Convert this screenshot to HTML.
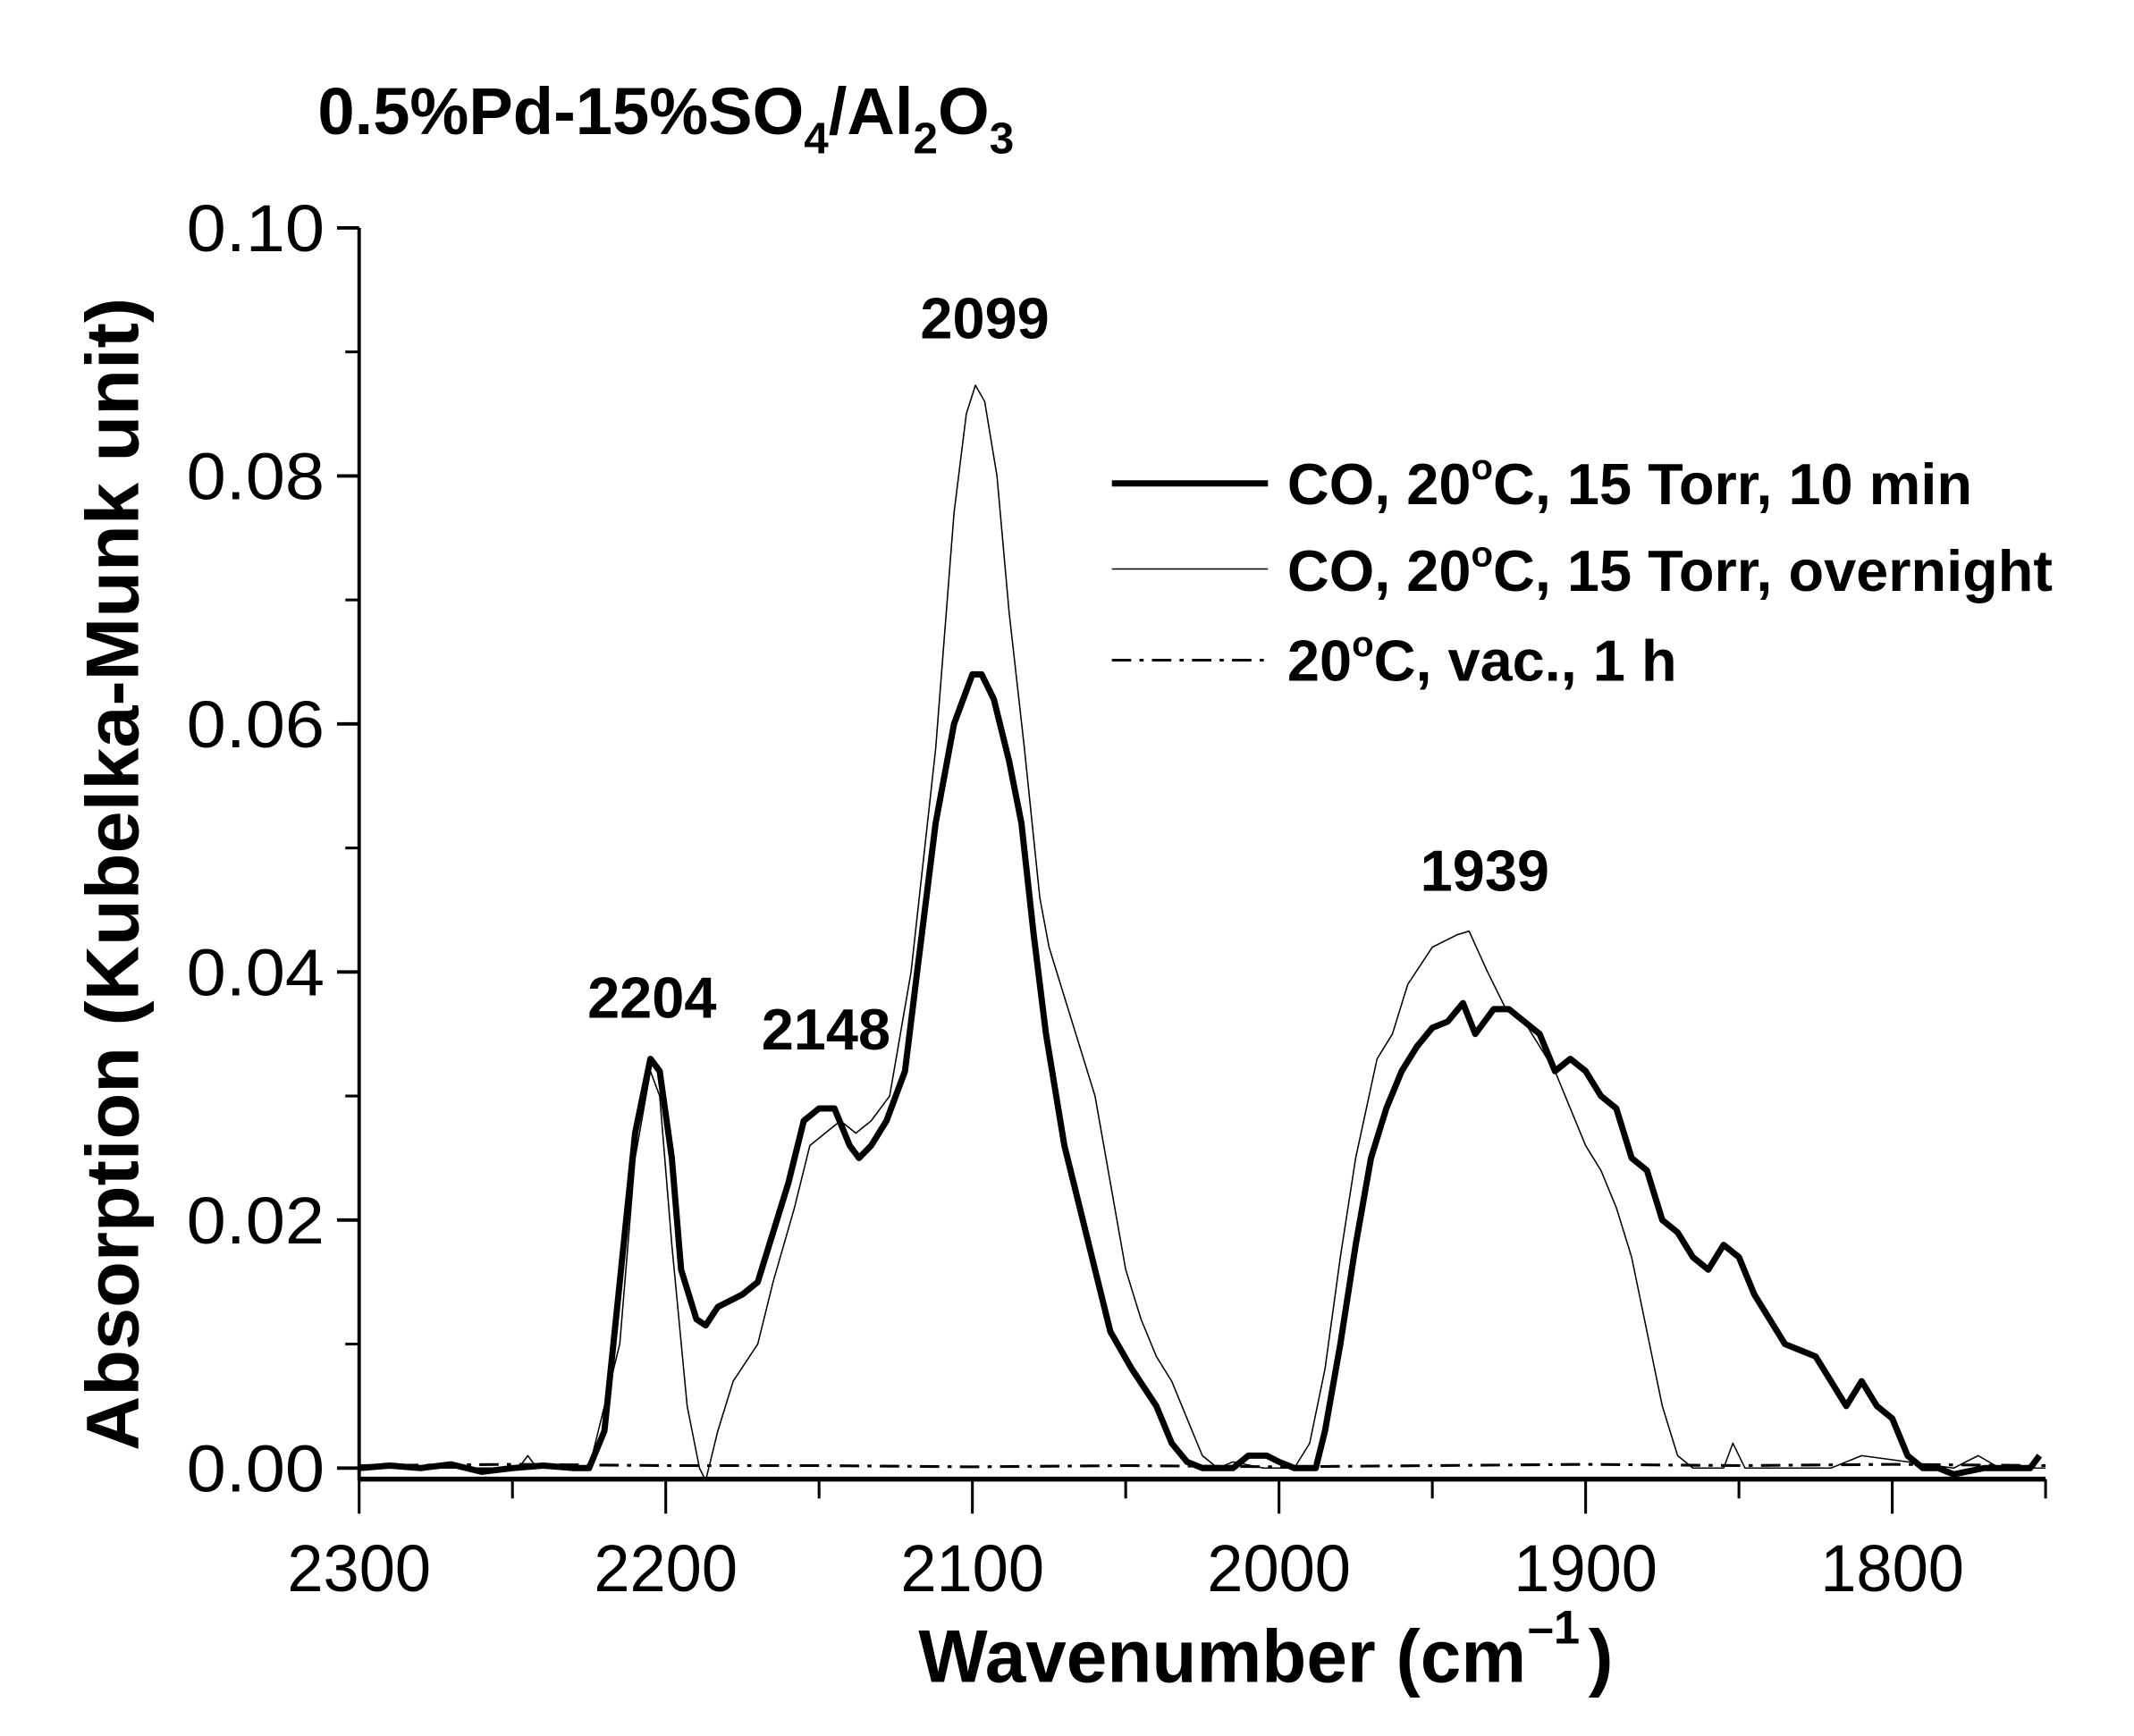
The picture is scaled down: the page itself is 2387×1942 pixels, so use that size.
<!DOCTYPE html>
<html><head><meta charset="utf-8"><style>html,body{margin:0;padding:0;background:#fff}svg{display:block}text{font-family:"Liberation Sans",Arial,sans-serif;fill:#000}</style></head>
<body>
<svg id="chart" width="2387" height="1942" viewBox="0 0 1545 1257" xmlns="http://www.w3.org/2000/svg">
<text x="230" y="97" font-size="48" font-weight="bold" transform="scale(1,1)">0.5%Pd-15%SO<tspan font-size="32" dy="14">4</tspan><tspan dy="-14">/Al</tspan><tspan font-size="32" dy="14">2</tspan><tspan dy="-14">O</tspan><tspan font-size="32" dy="14">3</tspan></text>
<g id="axes"></g>
<g id="series"></g>
<text x="665" y="1218" font-size="54" font-weight="bold" textLength="440" lengthAdjust="spacingAndGlyphs">Wavenumber (cm</text>
<text x="1106" y="1190" font-size="34" font-weight="bold">–1</text>
<text x="1150" y="1218" font-size="54" font-weight="bold">)</text>
<text transform="translate(100,633) rotate(-90)" text-anchor="middle" font-size="54" font-weight="bold" textLength="835" lengthAdjust="spacingAndGlyphs">Absorption (Kubelka-Munk unit)</text>
<g>
<line x1="805" y1="350" x2="918" y2="350" stroke="#000" stroke-width="4.5"/>
<text x="932" y="365" font-size="42" font-weight="bold">CO, 20<tspan font-size="26" dy="-18">o</tspan><tspan dy="18">C, 15 Torr, 10 min</tspan></text>
<line x1="805" y1="412" x2="918" y2="412" stroke="#000" stroke-width="1"/>
<text x="932" y="428" font-size="42" font-weight="bold">CO, 20<tspan font-size="26" dy="-18">o</tspan><tspan dy="18">C, 15 Torr, overnight</tspan></text>
<line x1="805" y1="478" x2="918" y2="478" stroke="#000" stroke-width="2" stroke-dasharray="14,6,3,6"/>
<text x="932" y="493" font-size="42" font-weight="bold">20<tspan font-size="26" dy="-18">o</tspan><tspan dy="18">C, vac., 1 h</tspan></text>
</g>
<g font-size="42" font-weight="bold" text-anchor="middle">
<text x="472" y="737">2204</text>
<text x="598" y="760">2148</text>
<text x="713" y="245">2099</text>
<text x="1075" y="645">1939</text>
</g>
</svg>
<script>
const xTicks=[2300,2200,2100,2000,1900,1800];
const xMinorTicks=[2250,2150,2050,1950,1850,1750];
const yTicks=[0,0.02,0.04,0.06,0.08,0.10];
const yTickLabels=["0.00","0.02","0.04","0.06","0.08","0.10"];
const yMinorTicks=[0.01,0.03,0.05,0.07,0.09];
const wn10min=[2300,2290,2280,2270,2260,2250,2240,2230,2225,2220,2215,2210,2205,2202,2198,2195,2190,2187,2183,2175,2170,2165,2160,2155,2150,2145,2140,2137,2133,2128,2122,2118,2112,2106,2100,2097,2093,2088,2084,2080,2076,2070,2066,2060,2055,2048,2040,2035,2030,2025,2020,2015,2010,2004,2000,1995,1988,1985,1980,1975,1970,1965,1960,1955,1950,1945,1940,1936,1930,1925,1920,1915,1910,1905,1900,1895,1890,1885,1880,1875,1870,1865,1860,1855,1850,1845,1840,1835,1830,1825,1820,1815,1810,1805,1800,1795,1790,1785,1780,1770,1755,1752];
const abs10min=[0,0.0002,0,0.0003,-0.0003,0,0.0002,0,0,0.003,0.015,0.027,0.033,0.032,0.025,0.016,0.012,0.0115,0.013,0.014,0.015,0.019,0.023,0.028,0.029,0.029,0.026,0.025,0.026,0.028,0.032,0.040,0.052,0.060,0.064,0.064,0.062,0.057,0.052,0.043,0.035,0.026,0.022,0.016,0.011,0.008,0.005,0.002,0.0005,0,0,0,0.001,0.001,0.0005,0,0,0.003,0.010,0.018,0.025,0.029,0.032,0.034,0.0355,0.036,0.0375,0.035,0.037,0.037,0.036,0.035,0.032,0.033,0.032,0.030,0.029,0.025,0.024,0.020,0.019,0.017,0.016,0.018,0.017,0.014,0.012,0.010,0.0095,0.009,0.007,0.005,0.007,0.005,0.004,0.001,0,0,-0.0005,0,0,0.001];
const wnOvernight=[2300,2260,2248,2245,2242,2225,2215,2210,2205,2202,2198,2193,2189,2187,2183,2178,2170,2165,2158,2153,2148,2143,2138,2133,2127,2120,2112,2106,2102,2099,2096,2092,2088,2083,2078,2075,2070,2065,2060,2055,2050,2045,2040,2035,2030,2025,2020,2015,2005,1995,1990,1985,1980,1975,1968,1963,1958,1950,1942,1938,1932,1926,1920,1915,1910,1905,1900,1895,1890,1885,1880,1875,1870,1865,1855,1852,1848,1820,1810,1780,1772,1765,1750];
const absOvernight=[0,0,0,0.001,0,0,0.010,0.025,0.032,0.030,0.018,0.005,0,-0.001,0.003,0.007,0.010,0.015,0.021,0.026,0.027,0.028,0.027,0.028,0.030,0.040,0.058,0.077,0.085,0.0873,0.086,0.080,0.069,0.058,0.046,0.042,0.038,0.034,0.030,0.023,0.016,0.012,0.009,0.007,0.004,0.001,0,0.0005,0,0,0.002,0.008,0.017,0.025,0.033,0.035,0.039,0.042,0.043,0.0433,0.040,0.037,0.036,0.034,0.032,0.029,0.026,0.024,0.021,0.017,0.011,0.005,0.001,0,0,0.002,0,0,0.001,0,0.001,0,0];
const wnVac=[2300,2250,2200,2150,2100,2050,2000,1950,1900,1850,1800,1750];
const absVac=[0.0002,0.0003,0.0002,0.0002,0.0001,0.0002,0.0001,0.0002,0.0003,0.0002,0.0003,0.0002];

const NS="http://www.w3.org/2000/svg";
const X0=260,X1=1481,W0=2300,W1=1750,Y0=1063,Y1=165;
function xs(w){return X0+(W0-w)*(X1-X0)/(W0-W1);}
function ys(v){return Y0-v*(Y0-Y1)/0.10;}
function mk(tag,attrs,parent){const e=document.createElementNS(NS,tag);for(const k in attrs)e.setAttribute(k,attrs[k]);parent.appendChild(e);return e;}
const axes=document.getElementById('axes');
const ser=document.getElementById('series');
let yAxis=mk('line',{x1:X0,y1:Y1,x2:X0,y2:1072,stroke:'#000','stroke-width':2.5},axes);


let xAxis=mk('line',{x1:X0,y1:1071,x2:X1,y2:1071,stroke:'#000','stroke-width':3.5},axes);


xTicks.forEach(w=>{
  const t=mk('line',{x1:xs(w),y1:1071,x2:xs(w),y2:1096,stroke:'#000','stroke-width':2},axes);
  
  
  const l=mk('text',{x:xs(w),y:1152,'font-size':48,'text-anchor':'middle',textLength:104,lengthAdjust:'spacingAndGlyphs'},axes);l.textContent=String(w);
  
  
});
xMinorTicks.forEach(w=>{
  const t=mk('line',{x1:xs(w),y1:1071,x2:xs(w),y2:1085,stroke:'#000','stroke-width':2},axes);
  
  
});
yTicks.forEach((v,i)=>{
  const t=mk('line',{x1:X0-16,y1:ys(v),x2:X0,y2:ys(v),stroke:'#000','stroke-width':2.5},axes);
  
  
  const l=mk('text',{x:X0-25,y:ys(v)+17,'font-size':48,'text-anchor':'end',textLength:100,lengthAdjust:'spacingAndGlyphs'},axes);l.textContent=yTickLabels[i];
  
  
});
yMinorTicks.forEach(v=>{
  const t=mk('line',{x1:X0-10,y1:ys(v),x2:X0,y2:ys(v),stroke:'#000','stroke-width':2},axes);
  
  
});
function pts(w,a){return w.map((x,i)=>xs(x).toFixed(1)+','+ys(a[i]).toFixed(1)).join(' ');}
const pv=mk('polyline',{points:pts(wnVac,absVac),fill:'none',stroke:'#000','stroke-width':2,'stroke-dasharray':'14,6,3,6'},ser);


const po=mk('polyline',{points:pts(wnOvernight,absOvernight),fill:'none',stroke:'#000','stroke-width':1,'stroke-linejoin':'round'},ser);


const pt=mk('polyline',{points:pts(wn10min,abs10min),fill:'none',stroke:'#000','stroke-width':4.5,'stroke-linejoin':'round'},ser);


</script>
</body></html>
